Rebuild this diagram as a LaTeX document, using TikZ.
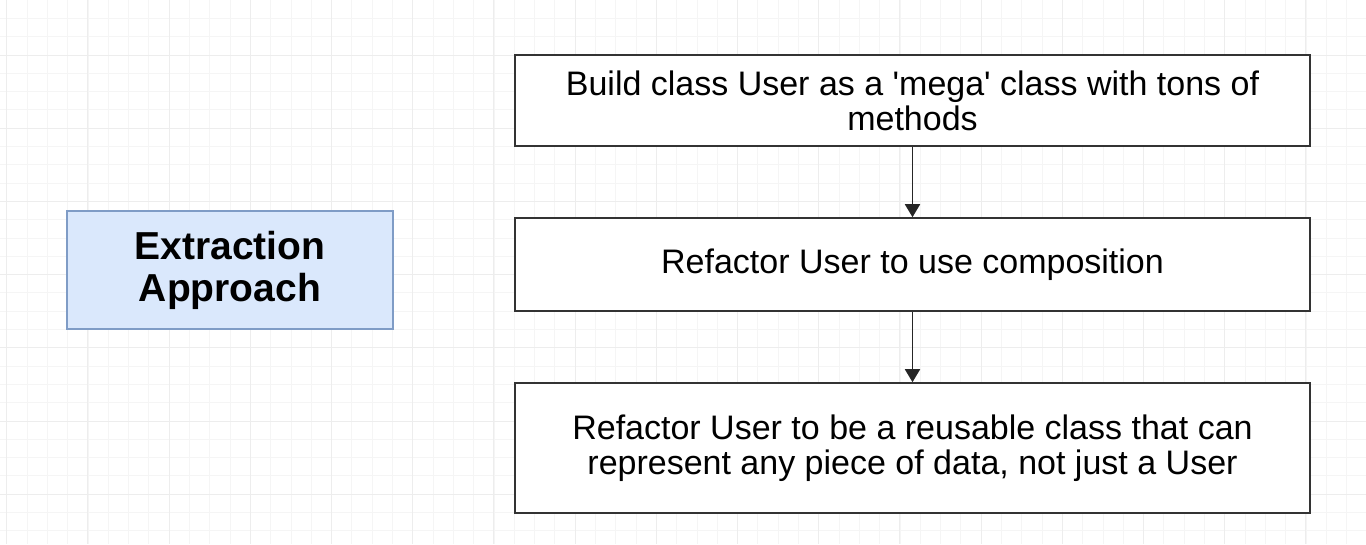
\documentclass[tikz,border=0pt]{standalone}
\usepackage{fontspec}
\setmainfont{Liberation Sans}
\usetikzlibrary{arrows.meta}

\definecolor{gridminor}{HTML}{F5F5F5}
\definecolor{gridmajor}{HTML}{EDEDED}
\definecolor{approachfill}{HTML}{DAE8FC}
\definecolor{approachdraw}{HTML}{7F9CC6}

\tikzset{
    stepbox/.style = {draw = black!80, line width = 1.6pt, fill = white, rectangle,
        align = center, inner sep = 0pt, minimum width = 795pt,
        font = \fontsize{34}{35}\selectfont},
    titlebox/.style = {draw = approachdraw, line width = 1.4pt, fill = approachfill,
        rectangle, align = center, inner sep = 0pt, minimum width = 326pt,
        minimum height = 118pt, font = \fontsize{39}{42}\selectfont\bfseries},
    >={Triangle[width = 15pt, length = 13pt]}
}

\begin{document}
\begin{tikzpicture}[x = 1pt, y = -1pt, line width = 1.5pt]
\useasboundingbox[fill = white] (0,0) rectangle (1366,544);
% background grid
\foreach \gx in {0,...,67}
    \draw[gridminor, line width = 0.7pt] (6.7+20.3*\gx,0) -- (6.7+20.3*\gx,544);
\foreach \gy in {1,...,29}
    \draw[gridminor, line width = 0.7pt] (0,18.3*\gy) -- (1366,18.3*\gy);
\foreach \gx in {0,...,16}
    \draw[gridmajor, line width = 0.9pt] (6.7+81.2*\gx,0) -- (6.7+81.2*\gx,544);
\foreach \gy in {0,...,7}
    \draw[gridmajor, line width = 0.9pt] (0,55+73.2*\gy) -- (1366,55+73.2*\gy);

\draw
    (230,270) node[titlebox](approach){Extraction\\Approach}
    (912.5,100.5) node[stepbox, minimum height = 91pt](build){Build class User as a \textquotesingle mega\textquotesingle{} class with tons of\\methods}
    (912.5,264.5) node[stepbox, minimum height = 93pt](compose){Refactor User to use composition}
    (912.5,448) node[stepbox, minimum height = 130pt](reuse){Refactor User to be a reusable class that can\\represent any piece of data, not just a User};

    \draw[->, black!85, line width = 1.8pt] (build) -- (compose);
    \draw[->, black!85, line width = 1.8pt] (compose) -- (reuse);
\end{tikzpicture}
\end{document}
